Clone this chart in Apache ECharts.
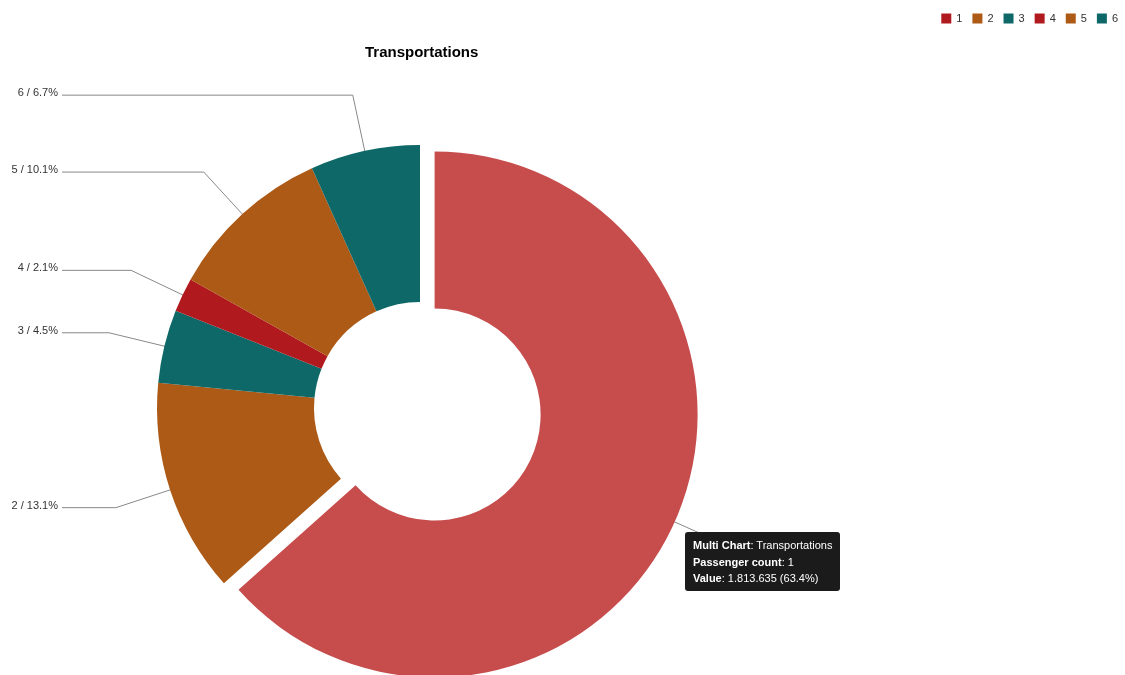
<!DOCTYPE html>
<html>
<head>
<meta charset="utf-8">
<title>Transportations</title>
<script src="https://cdn.jsdelivr.net/npm/echarts@6/dist/echarts.min.js"></script>
<style>
    html, body { margin: 0; padding: 0; background: #fff; }
    #chart { width: 1125px; height: 675px; }
</style>
</head>
<body>
<div id="chart"></div>
<script>
const categories = ['1', '2', '3', '4', '5', '6'];
const passengers = [1813635, 375791, 128745, 60081, 289961, 192787];
const sliceColors = ['#C74C4C', '#AD5A17', '#0F6868', '#B01A1E', '#AD5A17', '#0F6868'];
const legendColors = ['#B01A1E', '#AD5A17', '#0F6868', '#B01A1E', '#AD5A17', '#0F6868'];
const fontFamily = '"Liberation Sans", Arial, sans-serif';

// left labels: text ends here, label lines end a few px to the right
const labelTextRight = 58;
const labelLineEnd = 62;

const total = passengers.reduce((a, b) => a + b, 0);

function pct(v) {
    return (v / total * 100).toFixed(1);
}

// 1813635 -> 1.813.635
function formatValue(v) {
    return String(v).replace(/\B(?=(\d{3})+(?!\d))/g, '.');
}

window.onload = () => {
    const chart = echarts.init(document.getElementById('chart'));

    const seriesData = categories.map((name, i) => ({
        name: name,
        value: passengers[i],
        selected: i === 0,
        itemStyle: { color: sliceColors[i] }
    }));

    chart.setOption({
        animation: false,
        title: {
            text: 'Transportations',
            left: 360,
            top: 40,
            textStyle: { fontSize: 15, fontWeight: 'bold', color: '#000', fontFamily: fontFamily }
        },
        legend: {
            right: 2,
            top: 8,
            icon: 'rect',
            itemWidth: 10,
            itemHeight: 10,
            itemGap: 10,
            selectedMode: false,
            textStyle: { fontSize: 11, color: '#333', fontFamily: fontFamily },
            data: categories.map((name, i) => ({ name: name, itemStyle: { color: legendColors[i] } }))
        },
        tooltip: {
            trigger: 'item',
            triggerOn: 'none',
            alwaysShowContent: true,
            transitionDuration: 0,
            position: [685, 532],
            backgroundColor: '#1b1b1b',
            borderColor: '#1b1b1b',
            borderWidth: 0,
            padding: [5, 8, 4, 8],
            textStyle: { color: '#fff', fontSize: 11, fontFamily: fontFamily },
            extraCssText: 'box-shadow:none;border-radius:3px;line-height:16.5px;',
            formatter: function (p) {
                return '<b>Multi Chart</b>: Transportations<br>' +
                    '<b>Passenger count</b>: ' + p.name + '<br>' +
                    '<b>Value</b>: ' + formatValue(p.value) + ' (' + pct(p.value) + '%)';
            }
        },
        series: [{
            type: 'pie',
            left: 0,
            top: 0,
            width: 840,
            height: 675,
            center: [420, 408],
            radius: [106, 263],
            startAngle: 90,
            clockwise: true,
            selectedMode: 'single',
            selectedOffset: 16,
            avoidLabelOverlap: true,
            emphasis: { scale: false },
            select: { itemStyle: { borderWidth: 0 } },
            label: {
                show: true,
                position: 'outside',
                distanceToLabelLine: 4,
                color: '#333',
                fontSize: 11,
                fontFamily: fontFamily,
                formatter: function (p) {
                    return p.name + ' / ' + pct(p.value) + '%';
                }
            },
            labelLine: {
                show: true,
                showAbove: true,
                length: 57,
                length2: 43,
                smooth: false,
                lineStyle: { color: '#888', width: 1 }
            },
            labelLayout: function (p) {
                const pts = p.labelLinePoints;
                if (!pts || pts.length < 3) return {};
                // start the line a little inside the slice
                const a = pts[0], b = pts[1];
                const dx = a[0] - b[0], dy = a[1] - b[1];
                const len = Math.sqrt(dx * dx + dy * dy) || 1;
                const start = [a[0] + dx / len * 14, a[1] + dy / len * 14];
                if (pts[2][0] > pts[1][0]) {
                    return { labelLinePoints: [start, b, pts[2]] };
                }
                return {
                    x: labelTextRight,
                    dy: -2,
                    align: 'right',
                    labelLinePoints: [start, b, [labelLineEnd, b[1]]]
                };
            },
            data: seriesData
        }]
    });

    chart.dispatchAction({ type: 'showTip', seriesIndex: 0, dataIndex: 0 });
};
</script>
</body>
</html>
